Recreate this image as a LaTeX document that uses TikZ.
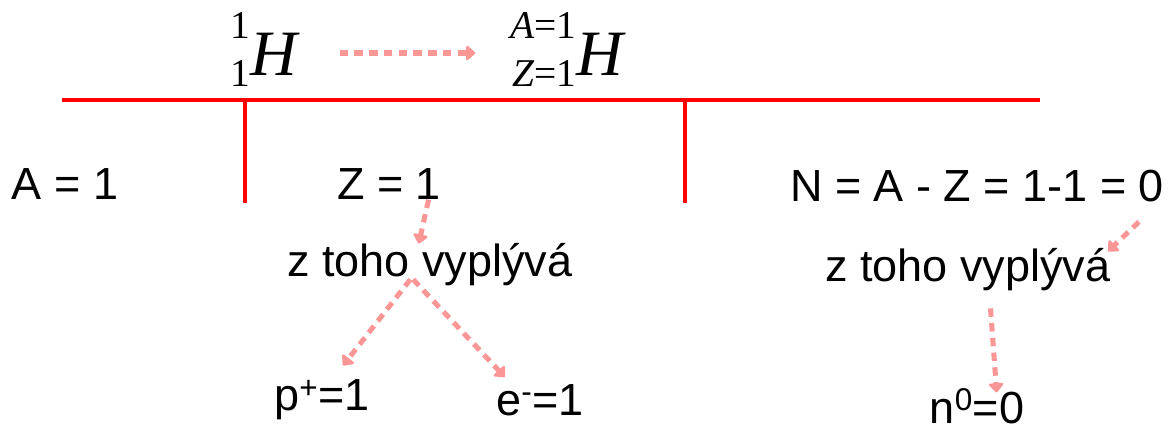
\documentclass[tikz,border=0pt]{standalone}
\usepackage{fontspec}
\setmainfont{Liberation Sans}
\newfontfamily\izofont{Liberation Serif}
\usetikzlibrary{arrows.meta}
\definecolor{arrowpink}{RGB}{250,150,150}
\newcommand\izotop[2]{\raisebox{10pt}{\izofont\fontsize{28}{34}\selectfont\begin{tabular}{@{}r@{}}#1\\#2\end{tabular}}{\izofont\itshape\fontsize{46}{52}\selectfont H}}
\tikzset{
	txt/.style={inner sep=0pt,font=\fontsize{32}{38}\selectfont},
	redline/.style={red,line width=2.8pt},
	pinkarrow/.style={arrowpink,line width=3.6pt,dash pattern=on 6pt off 4.5pt,-{Triangle[round,length=7pt,width=12pt]}}
}
\begin{document}
\begin{tikzpicture}[x=0.025cm,y=-0.025cm]
	\useasboundingbox (0,0) rectangle (1176,434);
	\draw[redline] (62,100) -- (1040,100);
	\draw[redline] (245,100) -- (245,203);
	\draw[redline] (685,100) -- (685,203);
	\node[inner sep=0pt] (h1) at (264,53) {\izotop{1}{1}};
	\node[inner sep=0pt] (h2) at (567,53) {\izotop{{\itshape A}=1}{{\itshape Z}=1}};
	\node[txt] (a1) at (65,184) {A = 1};
	\node[txt] (zeq) at (389,184) {Z = 1};
	\node[txt] (neq) at (977,186) {N = A - Z = 1-1 = 0};
	\node[txt] (ztl) at (430,265) {z toho vyplývá};
	\node[txt] (ztr) at (968,270) {z toho vyplývá};
	\node[txt] (pp) at (322,400) {p\textsuperscript{+}=1};
	\node[txt] (em) at (540,400) {e\textsuperscript{-}=1};
	\node[txt] (n0) at (977,406) {n\textsuperscript{0}=0};
	\draw[pinkarrow,shorten <=30pt,shorten >=25pt] (h1) -- (h2);
	\draw[pinkarrow] ([xshift=-9pt]zeq.south east) -- ([xshift=-8pt]ztl.north);
	\draw[pinkarrow] ([xshift=-14pt,yshift=5pt]ztl.south) -- ([xshift=15pt,yshift=10pt]pp.north);
	\draw[pinkarrow] ([xshift=-12pt,yshift=5pt]ztl.south) -- ([xshift=-25pt,yshift=5pt]em.north);
	\draw[pinkarrow] ([xshift=-18pt,yshift=-14pt]neq.south east) -- ([xshift=-2pt,yshift=-2pt]ztr.north east);
	\draw[pinkarrow] ([xshift=16pt,yshift=-12pt]ztr.south) -- ([xshift=14pt,yshift=-3pt]n0.north);
\end{tikzpicture}
\end{document}
